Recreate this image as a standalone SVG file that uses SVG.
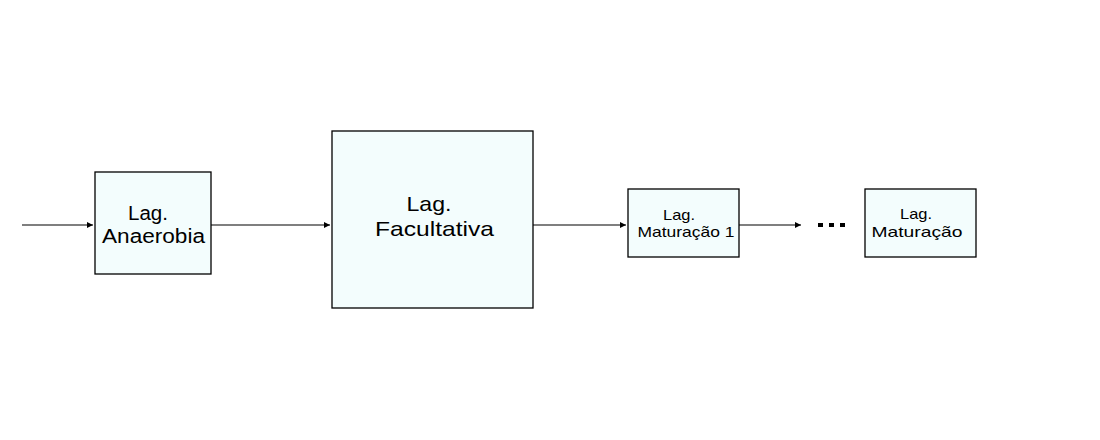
<svg xmlns="http://www.w3.org/2000/svg" width="1100" height="440" viewBox="0 0 1100 440">
<defs>
<marker id="ah" markerWidth="6" markerHeight="6" refX="6" refY="3" orient="auto" markerUnits="userSpaceOnUse">
<path d="M0,0 L6,3 L0,6 Z" fill="#000"/>
</marker>
<style>
.box{fill:#F3FDFD;stroke:#000;stroke-width:1.3}
.t{font-family:"Liberation Sans",Arial,sans-serif;fill:#000;text-anchor:middle}
.c{stroke:#000;stroke-width:1.1;fill:none;marker-end:url(#ah)}
</style>
</defs>
<rect width="1100" height="440" fill="#fff"/>
<g id="connectors">
<line class="c" x1="22" y1="225" x2="93" y2="225"/>
<line class="c" x1="211" y1="225" x2="330" y2="225"/>
<line class="c" x1="533" y1="225" x2="626" y2="225"/>
<line class="c" x1="739" y1="225" x2="801" y2="225"/>
</g>
<g id="ellipsis" fill="#000">
<rect x="818" y="223" width="5" height="4"/>
<rect x="829" y="223" width="5" height="4"/>
<rect x="840" y="223" width="5" height="4"/>
</g>
<g id="anaerobia">
<rect class="box" x="95" y="172" width="116" height="102"/>
<text class="t" x="148" y="220" font-size="20" textLength="40" lengthAdjust="spacingAndGlyphs">Lag.</text>
<text class="t" x="153.5" y="243" font-size="20" textLength="103" lengthAdjust="spacingAndGlyphs">Anaerobia</text>
</g>
<g id="facultativa">
<rect class="box" x="332" y="131" width="201" height="177"/>
<text class="t" x="429" y="211" font-size="21" textLength="45" lengthAdjust="spacingAndGlyphs">Lag.</text>
<text class="t" x="434.5" y="236" font-size="21" textLength="119" lengthAdjust="spacingAndGlyphs">Facultativa</text>
</g>
<g id="maturacao1">
<rect class="box" x="628" y="189" width="111" height="68"/>
<text class="t" x="679" y="220" font-size="15" textLength="32" lengthAdjust="spacingAndGlyphs">Lag.</text>
<text class="t" x="686" y="237" font-size="15" textLength="97" lengthAdjust="spacingAndGlyphs">Maturação 1</text>
</g>
<g id="maturacao">
<rect class="box" x="865" y="189" width="111" height="68"/>
<text class="t" x="916" y="219" font-size="15" textLength="32" lengthAdjust="spacingAndGlyphs">Lag.</text>
<text class="t" x="917" y="237" font-size="15" textLength="91" lengthAdjust="spacingAndGlyphs">Maturação</text>
</g>
</svg>
